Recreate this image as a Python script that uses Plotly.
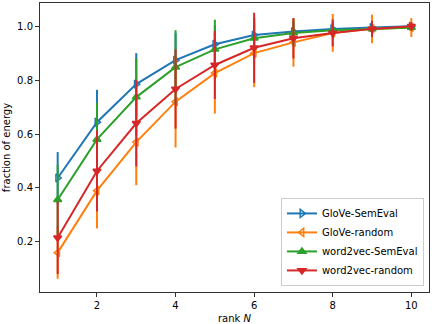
import plotly.graph_objs as go

# rank N on the x axis
rank = [1, 2, 3, 4, 5, 6, 7, 8, 9, 10]

# mean fraction of energy and std for each setup
glove_semeval = [0.437, 0.644, 0.785, 0.874, 0.933, 0.967, 0.980, 0.990, 0.995, 1.000]
glove_semeval_err = [0.096, 0.12, 0.115, 0.10, 0.07, 0.05, 0.035, 0.02, 0.012, 0.006]

glove_random = [0.160, 0.390, 0.570, 0.720, 0.826, 0.900, 0.940, 0.975, 0.990, 0.995]
glove_random_err = [0.097, 0.14, 0.16, 0.17, 0.15, 0.126, 0.09, 0.07, 0.053, 0.035]

w2v_semeval = [0.356, 0.580, 0.737, 0.848, 0.914, 0.955, 0.975, 0.985, 0.990, 0.995]
w2v_semeval_err = [0.13, 0.135, 0.145, 0.137, 0.11, 0.078, 0.05, 0.03, 0.02, 0.01]

w2v_random = [0.215, 0.463, 0.640, 0.767, 0.856, 0.920, 0.955, 0.975, 0.990, 1.000]
w2v_random_err = [0.134, 0.15, 0.16, 0.147, 0.126, 0.13, 0.075, 0.05, 0.03, 0.015]

series = [
    ('GloVe-SemEval', glove_semeval, glove_semeval_err, '#1f77b4', 'triangle-right-open'),
    ('GloVe-random', glove_random, glove_random_err, '#ff7f0e', 'triangle-left-open'),
    ('word2vec-SemEval', w2v_semeval, w2v_semeval_err, '#2ca02c', 'triangle-up'),
    ('word2vec-random', w2v_random, w2v_random_err, '#d62728', 'triangle-down'),
]

fig = go.Figure()
for name, y, err, col, sym in series:
    fig.add_trace(go.Scatter(
        x=rank, y=y, name=name, mode='lines+markers',
        line=dict(color=col, width=2),
        marker=dict(symbol=sym, size=7, color=col, line=dict(color=col, width=1.5)),
        error_y=dict(type='data', array=err, visible=True, color=col,
                     thickness=2, width=0),
    ))

axis_style = dict(showline=True, linecolor='#333', linewidth=1, mirror=True,
                  ticks='outside', ticklen=4, tickcolor='#333', showgrid=False,
                  zeroline=False, tickfont=dict(size=10, color='black'))

fig.update_layout(
    width=432, height=324,
    margin=dict(l=40, r=2, t=2, b=31),
    plot_bgcolor='white', paper_bgcolor='white',
    font=dict(family='DejaVu Sans', size=10, color='black'),
    xaxis=dict(range=[0.55, 10.45], tickvals=[2, 4, 6, 8, 10],
               title=dict(text='rank <i>N</i>', standoff=4, font=dict(size=10)),
               **axis_style),
    yaxis=dict(range=[0.014, 1.086], tickvals=[0.2, 0.4, 0.6, 0.8, 1.0],
               tickformat='.1f',
               title=dict(text='fraction of energy', standoff=4, font=dict(size=10)),
               **axis_style),
    legend=dict(x=0.987, y=0.021, xanchor='right', yanchor='bottom',
                bgcolor='rgba(255,255,255,0.8)', bordercolor='#ccc', borderwidth=1,
                font=dict(size=10), tracegroupgap=0, itemwidth=30),
    showlegend=True,
)

# page body has a default margin; drop it so the figure sits at the window corner
fig.write_html("out.html", config={'displayModeBar': False},
               post_script="document.body.style.margin='0';")
